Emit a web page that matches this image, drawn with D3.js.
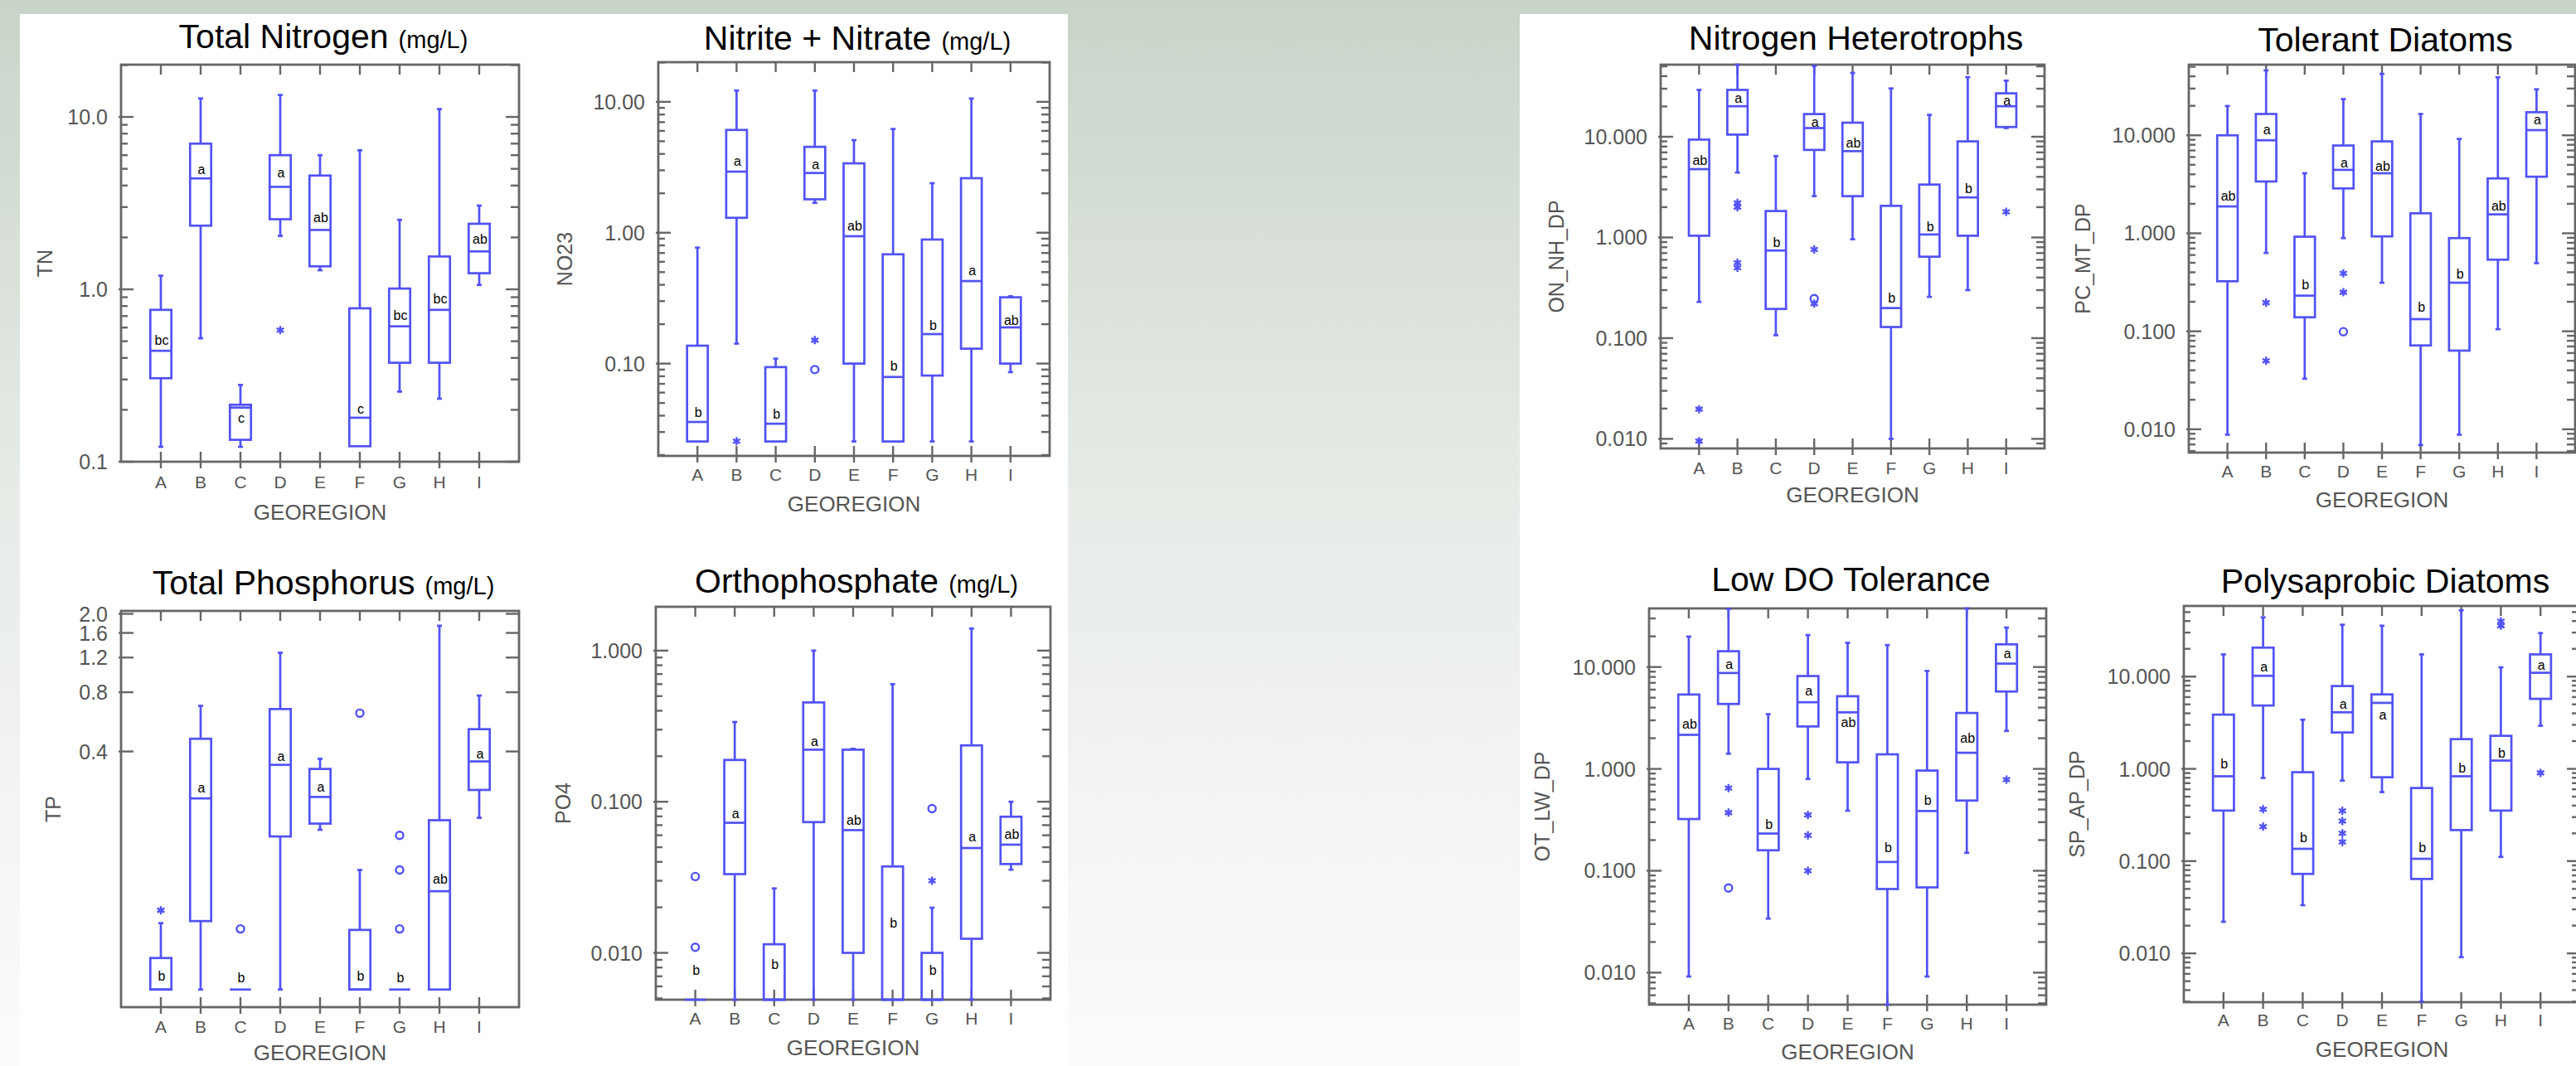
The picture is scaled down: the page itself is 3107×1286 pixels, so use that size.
<!DOCTYPE html>
<html><head><meta charset="utf-8">
<script src="https://cdn.jsdelivr.net/npm/d3@7"></script>
<style>
html,body{margin:0;padding:0;background:#fff;}
svg{display:block;}
text{font-family:"Liberation Sans",Arial,Helvetica,sans-serif;}
</style></head><body>
<svg id="chart" width="3107" height="1286"></svg>
<script>
const categories = ["A","B","C","D","E","F","G","H","I"];

// Total Nitrogen (TN)
const tnLow  = [0.122,0.52,0.122,2.04,1.29,0.123,0.255,0.232,1.06];
const tnQ1   = [0.305,2.34,0.134,2.55,1.36,0.123,0.375,0.375,1.24];
const tnMed  = [0.44,4.4,0.206,3.93,2.21,0.18,0.61,0.76,1.66];
const tnQ3   = [0.76,7.0,0.214,6.0,4.57,0.776,1.01,1.55,2.4];
const tnHigh = [1.2,12.8,0.279,13.4,6.0,6.4,2.53,11.1,3.06];
const tnLetters  = ["bc","a","c","a","ab","c","bc","bc","ab"];
const tnLetterAt = [0.506,4.97,0.180,4.74,2.61,0.202,0.708,0.883,1.97];
const tnOutliers = [["D",0.58,"star"]];

// Nitrite + Nitrate (NO23)
const noLow  = [0.0254,0.142,0.0254,1.69,0.0254,0.0254,0.0254,0.0254,0.086];
const noQ1   = [0.0254,1.30,0.0254,1.80,0.10,0.0254,0.081,0.130,0.10];
const noMed  = [0.0358,2.93,0.0347,2.86,0.94,0.079,0.168,0.427,0.189];
const noQ3   = [0.137,6.1,0.094,4.53,3.39,0.684,0.887,2.61,0.321];
const noHigh = [0.77,12.2,0.109,12.2,5.1,6.2,2.39,10.6,0.327];
const noLetters  = ["b","a","b","a","ab","b","b","a","ab"];
const noLetterAt = [0.0424,3.54,0.0411,3.33,1.13,0.0959,0.198,0.514,0.214];
const noOutliers = [["B",0.0255,"star"],["D",0.151,"star"],["D",0.090,"circle"]];

// Total Phosphorus (TP)
const tpLow  = [0.0247,0.0247,0.0247,0.0247,0.160,0.0247,0.0247,0.0247,0.184];
const tpQ1   = [0.0247,0.055,0.0247,0.148,0.172,0.0247,0.0247,0.0247,0.255];
const tpMed  = [0.0247,0.231,0.0247,0.342,0.235,0.0247,0.0247,0.078,0.356];
const tpQ3   = [0.0357,0.464,0.0247,0.657,0.326,0.0496,0.0247,0.179,0.519];
const tpHigh = [0.0537,0.682,0.0247,1.27,0.367,0.100,0.0247,1.74,0.769];
const tpLetters  = ["b","a","b","a","a","b","b","ab","a"];
const tpLetterAt = [0.029,0.262,0.0284,0.377,0.265,0.029,0.0284,0.090,0.388];
const tpOutliers = [["A",0.0624,"star"],["C",0.0502,"circle"],["F",0.626,"circle"],
                    ["G",0.150,"circle"],["G",0.100,"circle"],["G",0.0502,"circle"]];

// Orthophosphate (PO4)
const poLow  = [0.0049,0.0049,0.0049,0.0049,0.0049,0.0049,0.0049,0.0049,0.0355];
const poQ1   = [0.0049,0.0332,0.0049,0.0733,0.010,0.0049,0.0049,0.0124,0.0387];
const poMed  = [0.0049,0.0726,0.0049,0.221,0.0649,0.0049,0.0049,0.0494,0.052];
const poQ3   = [0.0049,0.189,0.0114,0.454,0.221,0.0373,0.010,0.236,0.0796];
const poHigh = [0.0049,0.337,0.0267,1.0,0.224,0.6,0.0199,1.40,0.100];
const poLetters  = ["b","a","b","a","ab","b","b","a","ab"];
const poLetterAt = [0.0077,0.0834,0.00845,0.251,0.0753,0.0158,0.0077,0.0591,0.0613];
const poOutliers = [["A",0.032,"circle"],["A",0.0109,"circle"],["G",0.090,"circle"],["G",0.030,"star"]];

// Nitrogen Heterotrophs (ON_NH_DP)
const nhLow  = [0.229,4.41,0.107,2.57,0.96,0.010,0.257,0.30,12.2];
const nhQ1   = [1.04,10.5,0.195,7.4,2.57,0.129,0.644,1.04,12.5];
const nhMed  = [4.77,20.1,0.742,12.2,7.2,0.199,1.07,2.5,20.1];
const nhQ3   = [9.37,29.2,1.83,16.8,13.8,2.06,3.35,9.0,27];
const nhHigh = [29.2,52,6.43,50.5,43,30.2,16.5,39.1,36.1];
const nhLetters  = ["ab","a","b","a","ab","b","b","b","a"];
const nhLetterAt = [5.85,24.4,0.889,14.1,8.66,0.253,1.29,3.1,22.9];
const nhOutliers = [["A",0.0197,"star"],["A",0.0095,"star"],["B",2.2,"star"],["B",2.0,"star"],
                    ["B",0.56,"star"],["B",0.50,"star"],["D",0.76,"star"],["D",0.247,"circle"],
                    ["D",0.22,"star"],["I",1.8,"star"]];

// Tolerant Diatoms (PC_MT_DP)
const tdLow  = [0.0088,0.63,0.0328,0.893,0.313,0.0069,0.0088,0.105,0.496];
const tdQ1   = [0.324,3.38,0.139,2.87,0.93,0.0717,0.0635,0.538,3.78];
const tdMed  = [1.88,8.9,0.231,4.44,4.1,0.133,0.313,1.56,11.3];
const tdQ3   = [10,16.5,0.923,7.87,8.67,1.6,0.893,3.63,17.2];
const tdHigh = [19.9,46,4.1,23.4,42.4,16.5,9.18,39.1,29.5];
const tdLetters  = ["ab","a","b","a","ab","b","b","ab","a"];
const tdLetterAt = [2.43,11.5,0.299,5.22,4.82,0.178,0.389,1.92,14.4];
const tdOutliers = [["B",0.196,"star"],["B",0.0499,"star"],["D",0.39,"star"],["D",0.25,"star"],["D",0.099,"circle"]];

// Low DO Tolerance (OT_LW_DP)
const ldLow  = [0.00916,1.41,0.0339,0.796,0.389,0.00485,0.00916,0.150,2.36];
const ldQ1   = [0.322,4.34,0.159,2.61,1.16,0.0662,0.0687,0.489,5.75];
const ldMed  = [2.16,8.74,0.232,4.51,3.59,0.122,0.386,1.44,10.8];
const ldQ3   = [5.37,14.3,1.0,8.16,5.17,1.39,0.963,3.54,16.7];
const ldHigh = [19.9,37.3,3.45,20.6,17.3,16.4,9.15,37.6,24.4];
const ldLetters  = ["ab","a","b","a","ab","b","b","ab","a"];
const ldLetterAt = [2.79,10.6,0.285,5.89,2.9,0.169,0.497,2.0,13.6];
const ldOutliers = [["B",0.648,"star"],["B",0.372,"star"],["B",0.0677,"circle"],["D",0.353,"star"],
                    ["D",0.223,"star"],["D",0.1,"star"],["I",0.784,"star"]];

// Polysaprobic Diatoms (SP_AP_DP)
const spLow  = [0.022,0.797,0.0333,0.745,0.56,0.003,0.0091,0.111,2.93];
const spQ1   = [0.353,4.86,0.0727,2.48,0.811,0.0641,0.217,0.353,5.74];
const spMed  = [0.831,10.2,0.136,4.1,5.19,0.106,0.831,1.23,11.0];
const spQ3   = [3.87,20.6,0.92,7.9,6.41,0.62,2.1,2.28,17.4];
const spHigh = [17.4,43.9,3.41,36.5,35.6,17.4,52.4,12.6,29.6];
const spLetters  = ["b","a","b","a","a","b","b","b","a"];
const spLetterAt = [1.14,12.8,0.18,5.06,3.87,0.14,1.03,1.5,13.3];
const spOutliers = [["B",0.365,"star"],["B",0.236,"star"],["D",0.35,"star"],["D",0.272,"star"],
                    ["D",0.2,"star"],["D",0.161,"star"],["H",39.7,"star"],["H",35.6,"star"],["I",0.904,"star"]];

// Axis tick values / labels
const tnTicks = [10, 1, 0.1];
const noTicks = [10, 1, 0.1];
const tpTicks = [2.0, 1.6, 1.2, 0.8, 0.4];
const poTicks = [1, 0.1, 0.01];
const dpTicks = [10, 1, 0.1, 0.01];

const panels = [
  {title:"Total Nitrogen", unit:"(mg/L)", ylab:"TN", low:tnLow,q1:tnQ1,med:tnMed,q3:tnQ3,high:tnHigh,
   letters:tnLetters,letterAt:tnLetterAt,outliers:tnOutliers, ticks:tnTicks, fmt:".1f", minor:true,
   domain:[0.1,20.1], x0:146,x1:626,y0:78,y1:557, titleY:58, catY:589, xtY:627, ytX:54},
  {title:"Nitrite + Nitrate", unit:"(mg/L)", ylab:"NO23", low:noLow,q1:noQ1,med:noMed,q3:noQ3,high:noHigh,
   letters:noLetters,letterAt:noLetterAt,outliers:noOutliers, ticks:noTicks, fmt:".2f", minor:true,
   domain:[0.0197,20.1], x0:794,x1:1266,y0:75,y1:550, titleY:60, catY:580, xtY:617, ytX:681},
  {title:"Total Phosphorus", unit:"(mg/L)", ylab:"TP", low:tpLow,q1:tpQ1,med:tpMed,q3:tpQ3,high:tpHigh,
   letters:tpLetters,letterAt:tpLetterAt,outliers:tpOutliers, ticks:tpTicks, fmt:".1f", minor:false,
   domain:[0.0201,2.07], x0:146,x1:626,y0:737,y1:1215, titleY:717, catY:1246, xtY:1279, ytX:64},
  {title:"Orthophosphate", unit:"(mg/L)", ylab:"PO4", low:poLow,q1:poQ1,med:poMed,q3:poQ3,high:poHigh,
   letters:poLetters,letterAt:poLetterAt,outliers:poOutliers, ticks:poTicks, fmt:".3f", minor:true,
   domain:[0.0049,1.95], x0:791,x1:1267,y0:732,y1:1206, titleY:715, catY:1236, xtY:1273, ytX:679},
  {title:"Nitrogen Heterotrophs", unit:"", ylab:"ON_NH_DP", low:nhLow,q1:nhQ1,med:nhMed,q3:nhQ3,high:nhHigh,
   letters:nhLetters,letterAt:nhLetterAt,outliers:nhOutliers, ticks:dpTicks, fmt:".3f", minor:true,
   domain:[0.00803,52], x0:2003,x1:2466,y0:78,y1:541, titleY:60, catY:572, xtY:606, ytX:1877},
  {title:"Tolerant Diatoms", unit:"", ylab:"PC_MT_DP", low:tdLow,q1:tdQ1,med:tdMed,q3:tdQ3,high:tdHigh,
   letters:tdLetters,letterAt:tdLetterAt,outliers:tdOutliers, ticks:dpTicks, fmt:".3f", minor:true,
   domain:[0.00578,52.6], x0:2640,x1:3106,y0:78,y1:546, titleY:62, catY:576, xtY:612, ytX:2512},
  {title:"Low DO Tolerance", unit:"", ylab:"OT_LW_DP", low:ldLow,q1:ldQ1,med:ldMed,q3:ldQ3,high:ldHigh,
   letters:ldLetters,letterAt:ldLetterAt,outliers:ldOutliers, ticks:dpTicks, fmt:".3f", minor:true,
   domain:[0.00485,37.6], x0:1989,x1:2468,y0:734,y1:1212, titleY:713, catY:1242, xtY:1278, ytX:1860},
  {title:"Polysaprobic Diatoms", unit:"", ylab:"SP_AP_DP", low:spLow,q1:spQ1,med:spMed,q3:spQ3,high:spHigh,
   letters:spLetters,letterAt:spLetterAt,outliers:spOutliers, ticks:dpTicks, fmt:".3f", minor:true,
   domain:[0.00296,58.3], x0:2634,x1:3112,y0:731,y1:1209, titleY:715, catY:1238, xtY:1275, ytX:2505}
];

const W = 3107, H = 1286;
const BLUE = "#5252f5";
const AXIS = "#666666";
const TXT = "#555555";
const svg = d3.select("#chart");
const defs = svg.append("defs");
const grad = defs.append("linearGradient").attr("id","bg").attr("x1",0).attr("y1",0).attr("x2",0).attr("y2",1);
grad.append("stop").attr("offset","0%").attr("stop-color","#c9d4c9");
grad.append("stop").attr("offset","47%").attr("stop-color","#e7ece7");
grad.append("stop").attr("offset","100%").attr("stop-color","#fbfcfb");
svg.append("rect").attr("width",W).attr("height",H).attr("fill","url(#bg)");
svg.append("rect").attr("x",24).attr("y",17).attr("width",1288-24).attr("height",H-17).attr("fill","#ffffff");
svg.append("rect").attr("x",1833).attr("y",17).attr("width",W-1833).attr("height",H-17).attr("fill","#ffffff");

panels.forEach((p, pi) => {
  const g = svg.append("g");
  const x = d3.scalePoint().domain(categories).range([p.x0, p.x1]).padding(1);
  const y = d3.scaleLog().domain(p.domain).range([p.y1, p.y0]).clamp(true);
  const step = x.step();
  const bw = step * 0.53;

  // minor ticks
  const minorVals = [];
  if (p.minor) {
    const k0 = Math.floor(Math.log10(p.domain[0])), k1 = Math.ceil(Math.log10(p.domain[1]));
    for (let k = k0; k <= k1; k++) {
      for (let m = 2; m <= 9; m++) {
        const v = m * Math.pow(10, k);
        if (v >= p.domain[0] && v <= p.domain[1]) minorVals.push(v);
      }
    }
  }
  const axisG = g.append("g").attr("stroke", AXIS).attr("stroke-width", 2.4).attr("fill","none");
  minorVals.forEach(v => {
    const yy = y(v);
    axisG.append("line").attr("x1", p.x0).attr("x2", p.x0 + 8).attr("y1", yy).attr("y2", yy);
    axisG.append("line").attr("x1", p.x1 - 10).attr("x2", p.x1).attr("y1", yy).attr("y2", yy);
  });
  p.ticks.forEach(v => {
    const yy = y(v);
    axisG.append("line").attr("x1", p.x0 - 3).attr("x2", p.x0 + 15).attr("y1", yy).attr("y2", yy);
    axisG.append("line").attr("x1", p.x1 - 16).attr("x2", p.x1).attr("y1", yy).attr("y2", yy);
  });
  categories.forEach(c => {
    const xx = x(c);
    axisG.append("line").attr("x1", xx).attr("x2", xx).attr("y1", p.y0).attr("y2", p.y0 + 12);
    axisG.append("line").attr("x1", xx).attr("x2", xx).attr("y1", p.y1 - 12).attr("y2", p.y1 + 8);
  });
  axisG.append("rect").attr("x", p.x0).attr("y", p.y0).attr("width", p.x1 - p.x0).attr("height", p.y1 - p.y0)
    .attr("stroke-width", 2.8);

  const f = d3.format(p.fmt);
  g.append("g").selectAll("text").data(p.ticks).join("text")
    .attr("x", p.x0 - 16).attr("y", d => y(d)).attr("dy", "0.36em")
    .attr("text-anchor", "end").attr("font-size", 25).attr("fill", TXT)
    .text(d => f(d));
  g.append("g").selectAll("text").data(categories).join("text")
    .attr("x", d => x(d)).attr("y", p.catY)
    .attr("text-anchor", "middle").attr("font-size", 21).attr("fill", TXT)
    .text(d => d);
  g.append("text").attr("x", (p.x0 + p.x1) / 2).attr("y", p.xtY)
    .attr("text-anchor", "middle").attr("font-size", 26).attr("fill", TXT).text("GEOREGION");
  g.append("text").attr("transform", `translate(${p.ytX},${(p.y0 + p.y1) / 2}) rotate(-90)`)
    .attr("text-anchor", "middle").attr("dy", "0.36em").attr("font-size", 25).attr("fill", TXT).text(p.ylab);

  const t = g.append("text").attr("x", (p.x0 + p.x1) / 2 + 4).attr("y", p.titleY)
    .attr("text-anchor", "middle").attr("fill", "#000");
  t.append("tspan").attr("font-size", 41).text(p.title);
  if (p.unit) t.append("tspan").attr("font-size", 29).attr("dx", 12).text(p.unit);

  const bg = g.append("g").attr("stroke", BLUE).attr("stroke-width", 2.7).attr("fill", "none");
  categories.forEach((c, i) => {
    const cx = x(c);
    const yLow = y(p.low[i]), yQ1 = y(p.q1[i]), yMed = y(p.med[i]), yQ3 = y(p.q3[i]), yHigh = y(p.high[i]);
    if (yLow - yQ1 > 0.5) {
      bg.append("line").attr("x1", cx).attr("x2", cx).attr("y1", yQ1).attr("y2", yLow);
      bg.append("line").attr("x1", cx - 3).attr("x2", cx + 3).attr("y1", yLow).attr("y2", yLow);
    }
    if (yQ3 - yHigh > 0.5) {
      bg.append("line").attr("x1", cx).attr("x2", cx).attr("y1", yHigh).attr("y2", yQ3);
      bg.append("line").attr("x1", cx - 3).attr("x2", cx + 3).attr("y1", yHigh).attr("y2", yHigh);
    }
    if (yQ1 - yQ3 > 0.5) {
      bg.append("rect").attr("x", cx - bw / 2).attr("y", yQ3).attr("width", bw).attr("height", yQ1 - yQ3);
    }
    bg.append("line").attr("x1", cx - bw / 2).attr("x2", cx + bw / 2).attr("y1", yMed).attr("y2", yMed);
  });

  const og = g.append("g").attr("stroke", BLUE).attr("stroke-width", 2.4).attr("fill", "none");
  const star = d3.symbol().type(d3.symbolAsterisk).size(70);
  p.outliers.forEach(o => {
    const cx = x(o[0]), cy = y(o[1]);
    if (o[2] === "circle") og.append("circle").attr("cx", cx).attr("cy", cy).attr("r", 4.5);
    else og.append("path").attr("d", star()).attr("transform", `translate(${cx},${cy})`);
  });

  g.append("g").selectAll("text").data(categories).join("text")
    .attr("x", d => x(d) + 1).attr("y", (d, i) => y(p.letterAt[i])).attr("dy", "0.36em")
    .attr("text-anchor", "middle").attr("font-size", 16).attr("fill", "#000")
    .text((d, i) => p.letters[i]);
});
</script>
</body></html>
